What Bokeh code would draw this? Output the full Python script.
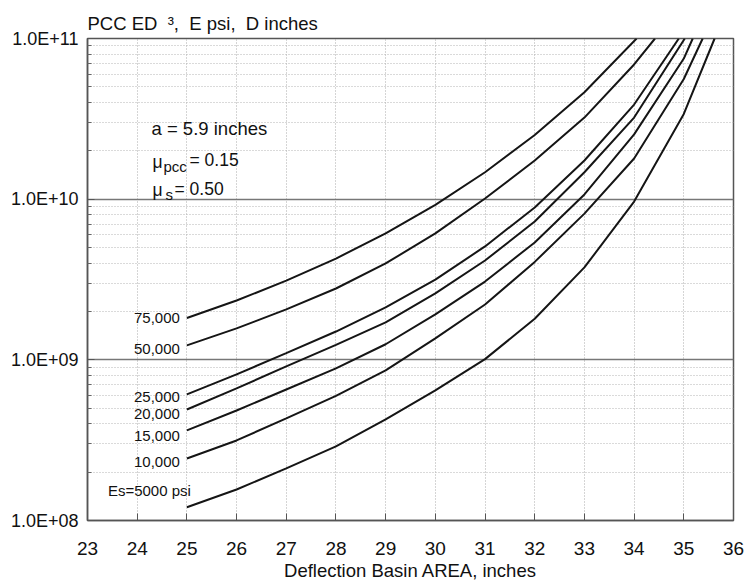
from bokeh.plotting import figure
from bokeh.models import Label, FixedTicker, CustomJSTickFormatter
from bokeh.embed import file_html
from bokeh.resources import INLINE

# ---- data (Deflection Basin AREA, inches  vs  E*D^3) ----
area_75000 = [25, 26, 27, 28, 29, 30, 31, 32, 33, 34.05]
ed3_75000 = [1.82e9, 2.34e9, 3.11e9, 4.27e9, 6.12e9, 9.22e9, 1.47e10, 2.51e10, 4.63e10, 1.0e11]

area_50000 = [25, 26, 27, 28, 29, 30, 31, 32, 33, 34, 34.42]
ed3_50000 = [1.23e9, 1.57e9, 2.06e9, 2.78e9, 3.98e9, 6.12e9, 1.01e10, 1.74e10, 3.22e10, 6.89e10, 1.0e11]

area_25000 = [25, 26, 27, 28, 29, 30, 31, 32, 33, 34, 34.9]
ed3_25000 = [6.09e8, 8.12e8, 1.10e9, 1.50e9, 2.12e9, 3.16e9, 5.08e9, 8.88e9, 1.74e10, 3.88e10, 1.0e11]

area_20000 = [25, 26, 27, 28, 29, 30, 31, 32, 33, 34, 35.02]
ed3_20000 = [4.91e8, 6.64e8, 9.10e8, 1.24e9, 1.71e9, 2.59e9, 4.15e9, 7.26e9, 1.47e10, 3.22e10, 1.0e11]

area_15000 = [25, 26, 27, 28, 29, 30, 31, 32, 33, 34, 35, 35.18]
ed3_15000 = [3.64e8, 4.84e8, 6.54e8, 8.84e8, 1.25e9, 1.92e9, 3.07e9, 5.38e9, 1.07e10, 2.53e10, 7.5e10, 1.0e11]

area_10000 = [25, 26, 27, 28, 29, 30, 31, 32, 33, 34, 35, 35.38]
ed3_10000 = [2.43e8, 3.15e8, 4.32e8, 5.96e8, 8.59e8, 1.36e9, 2.21e9, 4.07e9, 8.13e9, 1.79e10, 5.6e10, 1.0e11]

area_5000 = [25, 26, 27, 28, 29, 30, 31, 32, 33, 34, 35, 35.62]
ed3_5000 = [1.21e8, 1.56e8, 2.11e8, 2.89e8, 4.26e8, 6.45e8, 1.01e9, 1.80e9, 3.76e9, 9.66e9, 3.39e10, 1.0e11]

curve_labels = ["75,000", "50,000", "25,000", "20,000", "15,000", "10,000", "Es=5000 psi"]

x_ticks = [23, 24, 25, 26, 27, 28, 29, 30, 31, 32, 33, 34, 35, 36]
y_ticks = [1e8, 1e9, 1e10, 1e11]

FONT = "Liberation Sans"
NB = "\u00a0"

p = figure(width=746, height=583, y_axis_type="log",
           x_range=(23, 36), y_range=(1e8, 1e11),
           output_backend="svg", toolbar_location=None,
           min_border_left=87, min_border_right=13,
           min_border_top=38, min_border_bottom=63)

p.title.text = "PCC ED" + NB * 2 + "\u00b3," + NB * 2 + "E psi," + NB * 2 + "D inches"
p.title.text_font = FONT
p.title.text_font_size = "18.5px"
p.title.text_font_style = "normal"
p.title.text_color = "#111111"
p.title.align = "left"
p.title.standoff = 9

p.background_fill_color = "white"
p.border_fill_color = "white"
p.outline_line_color = "#555555"
p.outline_line_width = 1.5

# axes
minor = [m * 10 ** e for e in (8, 9, 10) for m in range(2, 10)]
p.yaxis.ticker = FixedTicker(ticks=y_ticks, minor_ticks=minor)
p.xaxis.ticker = FixedTicker(ticks=x_ticks)
p.yaxis.formatter = CustomJSTickFormatter(code="""
const e = Math.round(Math.log10(tick));
return "1.0E+" + (e < 10 ? "0" + e : String(e));
""")
p.axis.axis_line_color = "#555555"
p.axis.axis_line_width = 1.5
p.axis.major_tick_in = 7
p.axis.major_tick_out = 0
p.axis.major_tick_line_color = "#555555"
p.yaxis.minor_tick_in = 4
p.yaxis.minor_tick_out = 0
p.yaxis.minor_tick_line_color = "#666666"
p.xaxis.minor_tick_line_color = None
p.axis.major_label_text_font = FONT
p.axis.major_label_text_color = "#111111"
p.yaxis.major_label_text_font_size = "18px"
p.xaxis.major_label_text_font_size = "19px"
p.yaxis.major_label_standoff = 9
p.xaxis.major_label_standoff = 21
p.xaxis.axis_label = "Deflection Basin AREA, inches"
p.xaxis.axis_label_text_font = FONT
p.xaxis.axis_label_text_font_size = "18.5px"
p.xaxis.axis_label_text_font_style = "normal"
p.xaxis.axis_label_text_color = "#111111"
p.xaxis.axis_label_standoff = 2

# grids
p.ygrid.grid_line_color = "#777777"
p.ygrid.grid_line_width = 1.3
p.ygrid.minor_grid_line_color = "#b5b5b5"
p.ygrid.minor_grid_line_dash = "1 2"
p.xgrid.grid_line_color = "#aaaaaa"
p.xgrid.grid_line_dash = "1 2"

series = [(area_75000, ed3_75000), (area_50000, ed3_50000), (area_25000, ed3_25000),
          (area_20000, ed3_20000), (area_15000, ed3_15000), (area_10000, ed3_10000),
          (area_5000, ed3_5000)]
for xs, ys in series:
    p.line(xs, ys, line_color="#151515", line_width=2)

# curve labels (placed next to the start of each curve)
label_dy = [0, -4, -3, -5, -6, -3, 17]
label_dx = [-7, -7, -7, -7, -7, -7, 4]
for (xs, ys), txt, dy, dx in zip(series, curve_labels, label_dy, label_dx):
    p.add_layout(Label(x=xs[0], y=ys[0], x_offset=dx, y_offset=dy, text=txt,
                       text_align="right", text_baseline="middle",
                       text_font=FONT, text_font_size="15px", text_color="#111111"))

# parameter annotations, offsets from the top-left corner of the frame
def note(txt, dx, dy, size="17.5px"):
    p.add_layout(Label(x=23, y=1e11, x_offset=dx, y_offset=dy, text=txt,
                       text_align="left", text_baseline="middle",
                       text_font=FONT, text_font_size=size, text_color="#111111"))

note("a = 5.9 inches", 64, -90, "18.5px")
note("\u03bc", 65, -123)
note("pcc", 76, -128, "15px")
note("= 0.15", 102, -121)
note("\u03bc", 65, -151)
note("s", 78, -156, "15px")
note("= 0.50", 87, -150)

open("out.html", "w").write(file_html(p, INLINE))
